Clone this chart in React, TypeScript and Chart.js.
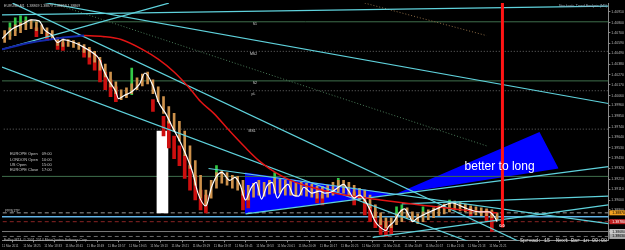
import { useEffect, useRef } from 'react';
import { Chart, registerables } from 'chart.js';

Chart.register(...registerables);

// ---------- DATA ----------
const timeLabels = [
  '11 Mar 2011', '11 Mar 18:25', '11 Mar 18:33', '11 Mar 18:41', '11 Mar 18:49', '11 Mar 18:57',
  '11 Mar 19:05', '11 Mar 19:13', '11 Mar 19:21', '11 Mar 19:29', '11 Mar 19:37', '11 Mar 19:45',
  '11 Mar 19:53', '11 Mar 20:01', '11 Mar 20:09', '11 Mar 20:17', '11 Mar 20:25', '11 Mar 20:33',
  '11 Mar 20:41', '11 Mar 20:49', '11 Mar 20:57', '11 Mar 21:05', '11 Mar 21:13', '11 Mar 21:21',
];
const labelStepMinutes = 8;

const priceTicks = [
  1.4091, 1.408, 1.407, 1.4059, 1.4049, 1.4038, 1.4027, 1.4017, 1.4006, 1.3996, 1.3985,
  1.3974, 1.3964, 1.3953, 1.3943, 1.3932, 1.3921, 1.3911, 1.39, 1.389, 1.3879, 1.3868,
];

// Heiken-Ashi style bars, one per 2 minutes (minute 1, 3, 5, ...)
const haHigh = [
  1.4072, 1.4075, 1.4078, 1.408, 1.4082, 1.4083, 1.4081, 1.4078, 1.4075, 1.4072,
  1.4065, 1.4064, 1.4063, 1.4062, 1.406, 1.4058, 1.4055, 1.4051, 1.4045, 1.4038,
  1.403, 1.402, 1.4012, 1.4014, 1.4018, 1.4024, 1.4028, 1.403, 1.4022, 1.4015,
  1.4005, 1.3995, 1.3988, 1.398, 1.397, 1.3955, 1.394, 1.3925, 1.391, 1.392,
  1.3928, 1.393, 1.3928, 1.3925, 1.3924, 1.392, 1.3915, 1.3917, 1.392, 1.3918,
  1.392, 1.3922, 1.3921, 1.392, 1.3919, 1.3918, 1.3918, 1.3917, 1.3916, 1.3914,
  1.3914, 1.3915, 1.3918, 1.392, 1.392, 1.3918, 1.3915, 1.3912, 1.391, 1.3905,
  1.3895, 1.3887, 1.3882, 1.3882, 1.3886, 1.389, 1.3892, 1.3888, 1.3886, 1.3888,
  1.389, 1.3892, 1.3894, 1.3896, 1.3898, 1.3899, 1.3898, 1.3896, 1.3894, 1.3893,
  1.3892, 1.3891, 1.389, 1.3887, 1.3885,
];
const haLow = [
  1.406, 1.4063, 1.4067, 1.407, 1.4073, 1.4074, 1.4072, 1.4069, 1.4066, 1.4064,
  1.4057, 1.4056, 1.4056, 1.4055, 1.4053, 1.405, 1.4045, 1.404, 1.4032, 1.4025,
  1.4015, 1.4008, 1.4002, 1.4004, 1.4008, 1.4012, 1.4016, 1.4018, 1.4008, 1.4,
  1.3988, 1.3978, 1.397, 1.396, 1.3945, 1.3932, 1.3915, 1.3902, 1.3895, 1.3902,
  1.3912, 1.3917, 1.3915, 1.3912, 1.391, 1.3905, 1.39, 1.3903, 1.3905, 1.3904,
  1.3906, 1.3907, 1.3907, 1.3905, 1.3905, 1.3904, 1.3905, 1.3904, 1.3903, 1.3902,
  1.3902, 1.3903, 1.3905, 1.3908, 1.3907, 1.3905, 1.3902, 1.39, 1.3897, 1.3892,
  1.3882, 1.3875, 1.3872, 1.3872, 1.3875, 1.3878, 1.3882, 1.3878, 1.3876, 1.3878,
  1.388, 1.3882, 1.3884, 1.3886, 1.3888, 1.389, 1.3889, 1.3888, 1.3886, 1.3885,
  1.3884, 1.3884, 1.3882, 1.388, 1.3878,
];

// [minute, high, low]
const bearCandles: [number, number, number][] = [
  [13, 1.4075, 1.4066], [17, 1.407, 1.4062], [21, 1.4062, 1.4053], [23, 1.406, 1.4052],
  [31, 1.4055, 1.4045], [33, 1.4053, 1.4038], [35, 1.4048, 1.4032], [37, 1.4042, 1.402],
  [39, 1.403, 1.4012], [41, 1.4022, 1.4005], [43, 1.4015, 1.4], [57, 1.4002, 1.399],
  [61, 1.3985, 1.3965], [63, 1.398, 1.3953], [65, 1.3965, 1.3942], [67, 1.3955, 1.3935],
  [69, 1.3945, 1.3922], [71, 1.3935, 1.391], [73, 1.3925, 1.39], [75, 1.391, 1.389],
  [77, 1.3905, 1.3887], [91, 1.391, 1.389], [93, 1.3905, 1.3892], [119, 1.3907, 1.3897],
  [121, 1.3905, 1.3895], [133, 1.3908, 1.3895], [137, 1.39, 1.3885], [139, 1.3895, 1.3878],
  [141, 1.3888, 1.3872], [143, 1.388, 1.3865], [145, 1.3878, 1.3863], [147, 1.3875, 1.3865],
  [177, 1.3892, 1.3884], [183, 1.389, 1.3878], [185, 1.3888, 1.3868],
];
const bullCandles: [number, number, number][] = [
  [3, 1.408, 1.4067], [5, 1.4085, 1.4072], [7, 1.4087, 1.4075], [9, 1.4086, 1.4078],
  [49, 1.4034, 1.4007], [81, 1.3935, 1.392], [103, 1.3928, 1.3917], [127, 1.3922, 1.3912],
  [149, 1.3893, 1.3883], [151, 1.3895, 1.3885], [159, 1.3893, 1.3883], [169, 1.39, 1.389],
];

// fast moving average (white)
const fastMaMinutes = [
  0, 4, 8, 11, 14, 16, 19, 21, 23, 25, 29, 31, 34, 37, 38, 40, 43, 44, 46, 49,
  52, 54, 57, 59, 62, 64, 68, 72, 74, 77, 79, 81, 83, 86, 88, 90, 92, 94, 96, 98,
  100, 102, 104, 106, 108, 110, 112, 114, 117, 120, 122, 125, 127, 129, 131, 133, 135, 137, 139, 141,
  143, 145, 146, 148, 150, 152, 154, 155, 157, 160, 165, 170, 174, 177, 180, 184, 186, 187,
];
const fastMaPrices = [
  1.4064, 1.4074, 1.4079, 1.4083, 1.4082, 1.4073, 1.4067, 1.406, 1.4063, 1.4062,
  1.4058, 1.4055, 1.405, 1.4042, 1.4034, 1.4023, 1.401, 1.4003, 1.4006, 1.401,
  1.4018, 1.4029, 1.4016, 1.4, 1.3987, 1.3976, 1.3955, 1.3928, 1.3907, 1.3894,
  1.3912, 1.3924, 1.3928, 1.392, 1.3923, 1.3915, 1.39, 1.3912, 1.3918, 1.3901,
  1.3914, 1.3918, 1.3902, 1.3911, 1.3916, 1.3905, 1.3904, 1.3913, 1.3907, 1.3909,
  1.3907, 1.3909, 1.3913, 1.3916, 1.3909, 1.3902, 1.3905, 1.39, 1.389, 1.3878,
  1.3872, 1.3869, 1.3873, 1.3878, 1.3887, 1.3891, 1.3883, 1.3878, 1.3882, 1.3886,
  1.3892, 1.3897, 1.3893, 1.389, 1.3888, 1.3888, 1.3883, 1.3878,
];

// slow moving average: rising part (blue), falling part (red)
const slowMaUpMinutes = [0, 11, 23, 31];
const slowMaUpPrices = [1.4053, 1.406, 1.4065, 1.4067];
const slowMaDownMinutes = [31, 38, 45, 53, 59, 65, 71, 75, 80, 86, 92, 97, 101, 109, 121, 132, 143, 158, 174, 187];
const slowMaDownPrices = [
  1.4067, 1.4066, 1.4063, 1.4053, 1.4043, 1.403, 1.4013, 1.4, 1.3988, 1.397,
  1.3953, 1.394, 1.3932, 1.392, 1.391, 1.3904, 1.39, 1.3895, 1.389, 1.3887,
];

// tall white column
const whiteColumnMinute = 60.6;
const whiteColumnRange: [number, number] = [1.3887, 1.397];

// current-time marker
const cursorMinute = 189;
const cursorRange: [number, number] = [1.3872, 1.4105];

// horizontal levels
const levelPrices = [1.4081, 1.4051, 1.4021, 1.4011, 1.3972, 1.3924, 1.3887, 1.3883, 1.3878, 1.3868, 1.3863];

// trend lines [minute1, price1, minute2, price2]
const trendLines: [number, number, number, number][] = [
  [0, 1.4088, 229, 1.4097],
  [0, 1.4053, 63, 1.41],
  [11, 1.4103, 229, 1.3998],
  [4, 1.41, 196, 1.3857],
  [0, 1.4035, 177, 1.3857],
  [78, 1.3932, 229, 1.3876],
  [92, 1.3886, 229, 1.3934],
  [151, 1.3896, 229, 1.3904],
  [140, 1.3862, 229, 1.3895],
];
const dottedLines: [number, number, number, number][] = [
  [19, 1.41, 183, 1.3955],
  [137, 1.41, 183, 1.4067],
];

// blue zone (wedge + arrow): upper and lower outline
const zoneUpperMinutes = [91.7, 148.7, 203, 210.2];
const zoneUpperPrices = [1.3928, 1.3906, 1.3969, 1.3932];
const zoneLowerMinutes = [91.7, 148.7, 210.2];
const zoneLowerPrices = [1.3886, 1.3906, 1.3932];

// right-axis price markers
const markerPrices = [1.3887, 1.3878, 1.3868, 1.3863];

// ---------- STYLE / LAYOUT ----------
const FONT = '"Liberation Sans", Arial, sans-serif';
const CYAN = 'rgb(95,210,220)';
const levelStyles = [
  { color: '#3f6f4c', dash: [] as number[], width: 1 },
  { color: '#6a6a6a', dash: [1, 2], width: 1 },
  { color: '#3f6f4c', dash: [], width: 1 },
  { color: '#6a6a6a', dash: [1, 2], width: 1 },
  { color: '#6a6a6a', dash: [1, 2], width: 1 },
  { color: '#3f6f4c', dash: [], width: 1 },
  { color: '#9a9a9a', dash: [4, 3], width: 1 },
  { color: '#62b4e6', dash: [], width: 1.5 },
  { color: '#8a2424', dash: [4, 3], width: 1 },
  { color: '#7a7a7a', dash: [], width: 1 },
  { color: '#6a6a6a', dash: [4, 3], width: 1 },
];
const markerStyles = [
  { bg: '#f0a020', fg: '#000' },
  { bg: '#c02020', fg: '#fff' },
  { bg: '#c8c8c8', fg: '#000' },
  { bg: '#a8a8a8', fg: '#000' },
];

type Note = { text: string; minute: number; price: number; font: string; color: string; align: CanvasTextAlign };
const notes: Note[] = [
  { text: 'EURUSD,M1  1.38869 1.38879 1.38859 1.38869', minute: 0.8, price: 1.4097, font: `3.5px ${FONT}`, color: '#c8c8c8', align: 'left' },
  { text: 'Stochastic Trend Analysis (M1)', minute: 228.5, price: 1.4097, font: `3.5px ${FONT}`, color: '#9ab', align: 'right' },
  { text: 'S1', minute: 95.5, price: 1.4079, font: `3.5px ${FONT}`, color: '#d0d0d0', align: 'center' },
  { text: 'MS2', minute: 95, price: 1.4048, font: `3.5px ${FONT}`, color: '#d0d0d0', align: 'center' },
  { text: 'S2', minute: 95.5, price: 1.4019, font: `3.5px ${FONT}`, color: '#d0d0d0', align: 'center' },
  { text: 'pL', minute: 95, price: 1.4008, font: `3.5px ${FONT}`, color: '#d0d0d0', align: 'center' },
  { text: 'MS1', minute: 94.5, price: 1.397, font: `3.5px ${FONT}`, color: '#d0d0d0', align: 'center' },
  { text: 'EUROPE Open', minute: 3, price: 1.3947, font: `4px ${FONT}`, color: '#c8c8c8', align: 'left' },
  { text: '09:00', minute: 15, price: 1.3947, font: `4px ${FONT}`, color: '#c8c8c8', align: 'left' },
  { text: 'LONDON Open', minute: 3, price: 1.3941, font: `4px ${FONT}`, color: '#c8c8c8', align: 'left' },
  { text: '10:00', minute: 15, price: 1.3941, font: `4px ${FONT}`, color: '#c8c8c8', align: 'left' },
  { text: 'US Open', minute: 3, price: 1.3936, font: `4px ${FONT}`, color: '#c8c8c8', align: 'left' },
  { text: '15:00', minute: 15, price: 1.3936, font: `4px ${FONT}`, color: '#c8c8c8', align: 'left' },
  { text: 'EUROPE Close', minute: 3, price: 1.3931, font: `4px ${FONT}`, color: '#c8c8c8', align: 'left' },
  { text: '17:00', minute: 15, price: 1.3931, font: `4px ${FONT}`, color: '#c8c8c8', align: 'left' },
  { text: 'PP/S1TP', minute: 1.2, price: 1.3889, font: `3.5px ${FONT}`, color: '#c8c8c8', align: 'left' },
  { text: 'FxPro MT4, © 2001-2014 MetaQuotes Software Corp.', minute: 0.8, price: 1.3859, font: `3.5px ${FONT}`, color: '#b8b8b8', align: 'left' },
  { text: 'Spread: 15  Next Bar in 00:08', minute: 228.5, price: 1.3859, font: `5px "Liberation Mono", monospace`, color: '#e0e0e0', align: 'right' },
  { text: '0.0', minute: 188.8, price: 1.3874, font: `bold 4px ${FONT}`, color: '#ffffff', align: 'center' },
  { text: 'better to long', minute: 174.7, price: 1.3934, font: `12px ${FONT}`, color: '#ffffff', align: 'left' },
];

const seg = (xs: number[], ys: number[]) => xs.map((x, i) => ({ x, y: ys[i] }));

const overlayPlugin = {
  id: 'mtOverlay',
  afterDatasetsDraw(chart: any) {
    const { ctx, scales } = chart;
    const xs = scales.x;
    const ys = scales.y;
    ctx.save();
    for (const n of notes) {
      ctx.font = n.font;
      ctx.fillStyle = n.color;
      ctx.textAlign = n.align;
      ctx.textBaseline = 'middle';
      ctx.fillText(n.text, xs.getPixelForValue(n.minute), ys.getPixelForValue(n.price));
    }
    ctx.restore();
  },
  afterDraw(chart: any) {
    const { ctx, scales, chartArea } = chart;
    const ys = scales.y;
    ctx.save();
    markerPrices.forEach((p, i) => {
      const py = ys.getPixelForValue(p);
      const left = chartArea.right + 1;
      ctx.fillStyle = markerStyles[i].bg;
      ctx.fillRect(left, py - 2.5, chart.width - left, 5);
      ctx.fillStyle = markerStyles[i].fg;
      ctx.font = `3.5px ${FONT}`;
      ctx.textAlign = 'left';
      ctx.textBaseline = 'middle';
      ctx.fillText(p.toFixed(5), left + 3, py);
    });
    ctx.restore();
  },
};

export default function App() {
  const canvasRef = useRef<HTMLCanvasElement | null>(null);

  useEffect(() => {
    document.body.style.margin = '0';
    document.body.style.background = '#000';
    const canvas = canvasRef.current;
    if (!canvas) return;

    const lineBase = { type: 'line' as const, pointRadius: 0, fill: false, tension: 0 };
    const datasets: any[] = [];

    // blue zone (drawn first)
    datasets.push({
      ...lineBase,
      data: seg(zoneUpperMinutes, zoneUpperPrices),
      borderWidth: 0,
      borderColor: 'rgba(0,0,0,0)',
      backgroundColor: 'rgb(0,0,255)',
      fill: '+1',
      order: 20,
    });
    datasets.push({
      ...lineBase,
      data: seg(zoneLowerMinutes, zoneLowerPrices),
      borderWidth: 0,
      borderColor: 'rgba(0,0,0,0)',
      order: 19,
    });

    levelPrices.forEach((p, i) => {
      datasets.push({
        ...lineBase,
        data: [{ x: -5, y: p }, { x: 240, y: p }],
        borderColor: levelStyles[i].color,
        borderDash: levelStyles[i].dash,
        borderWidth: levelStyles[i].width,
        order: 15,
      });
    });

    dottedLines.forEach(([m1, p1, m2, p2], i) => {
      datasets.push({
        ...lineBase,
        data: [{ x: m1, y: p1 }, { x: m2, y: p2 }],
        borderColor: i === 0 ? '#4a7a58' : '#8a6a44',
        borderDash: [1, 2],
        borderWidth: 1,
        order: 14,
      });
    });

    // white column
    datasets.push({
      type: 'bar',
      data: [{ x: whiteColumnMinute, y: whiteColumnRange }],
      backgroundColor: '#ffffff',
      barThickness: 11,
      grouped: false,
      order: 12,
    });

    // candles
    datasets.push({
      type: 'bar',
      data: bearCandles.map(([m, h, l]) => ({ x: m, y: [l, h] })),
      backgroundColor: 'rgb(205,15,15)',
      barThickness: 3,
      grouped: false,
      order: 11,
    });
    datasets.push({
      type: 'bar',
      data: bullCandles.map(([m, h, l]) => ({ x: m, y: [l, h] })),
      backgroundColor: 'rgb(50,200,70)',
      barThickness: 2,
      grouped: false,
      order: 10,
    });
    datasets.push({
      type: 'bar',
      data: haHigh.map((h, i) => ({ x: 2 * i + 1, y: [haLow[i], h] })),
      backgroundColor: 'rgb(205,145,75)',
      barThickness: 2,
      grouped: false,
      order: 9,
    });

    trendLines.forEach(([m1, p1, m2, p2]) => {
      datasets.push({
        ...lineBase,
        data: [{ x: m1, y: p1 }, { x: m2, y: p2 }],
        borderColor: CYAN,
        borderWidth: 1.2,
        order: 8,
      });
    });

    datasets.push({
      ...lineBase,
      data: seg(slowMaUpMinutes, slowMaUpPrices),
      borderColor: 'rgb(20,40,170)',
      borderWidth: 2,
      tension: 0.4,
      order: 5,
    });
    datasets.push({
      ...lineBase,
      data: seg(slowMaDownMinutes, slowMaDownPrices),
      borderColor: 'rgb(225,20,20)',
      borderWidth: 1.5,
      cubicInterpolationMode: 'monotone',
      order: 4,
    });
    datasets.push({
      ...lineBase,
      data: seg(fastMaMinutes, fastMaPrices),
      borderColor: '#ffffff',
      borderWidth: 1.2,
      cubicInterpolationMode: 'monotone',
      order: 3,
    });
    datasets.push({
      ...lineBase,
      data: [{ x: cursorMinute, y: cursorRange[1] }, { x: cursorMinute, y: cursorRange[0] }],
      borderColor: 'rgb(255,20,20)',
      borderWidth: 3,
      order: 1,
    });

    const chart = new Chart(canvas, {
      type: 'bar',
      data: { datasets },
      options: {
        responsive: false,
        animation: false,
        events: [],
        layout: { padding: 0 },
        plugins: { legend: { display: false }, tooltip: { enabled: false } },
        scales: {
          x: {
            type: 'linear',
            min: 0,
            max: 229,
            offset: false,
            afterBuildTicks: (scale: any) => {
              scale.ticks = timeLabels.map((_, k) => ({ value: k * labelStepMinutes }));
            },
            ticks: {
              autoSkip: false,
              maxRotation: 0,
              align: 'start',
              padding: 2,
              color: '#b8b8b8',
              font: { size: 3, family: FONT },
              callback: (_v: any, i: number) => timeLabels[i],
            },
            grid: { drawOnChartArea: false, tickLength: 2, color: '#8a8a8a' },
            border: { color: '#8a8a8a' },
          },
          y: {
            type: 'linear',
            position: 'right',
            min: 1.3859,
            max: 1.41,
            afterBuildTicks: (scale: any) => {
              scale.ticks = priceTicks.map((v) => ({ value: v }));
            },
            ticks: {
              padding: 1,
              color: '#b8b8b8',
              font: { size: 3.5, family: FONT },
              callback: (v: any) => Number(v).toFixed(5),
            },
            grid: { drawOnChartArea: false, tickLength: 2, color: '#8a8a8a' },
            border: { color: '#8a8a8a' },
          },
        },
      } as any,
      plugins: [overlayPlugin],
    });

    return () => chart.destroy();
  }, []);

  return (
    <div style={{ width: 625, height: 250, background: '#000' }}>
      <canvas ref={canvasRef} width={625} height={250} style={{ display: 'block', background: '#000' }} />
    </div>
  );
}
